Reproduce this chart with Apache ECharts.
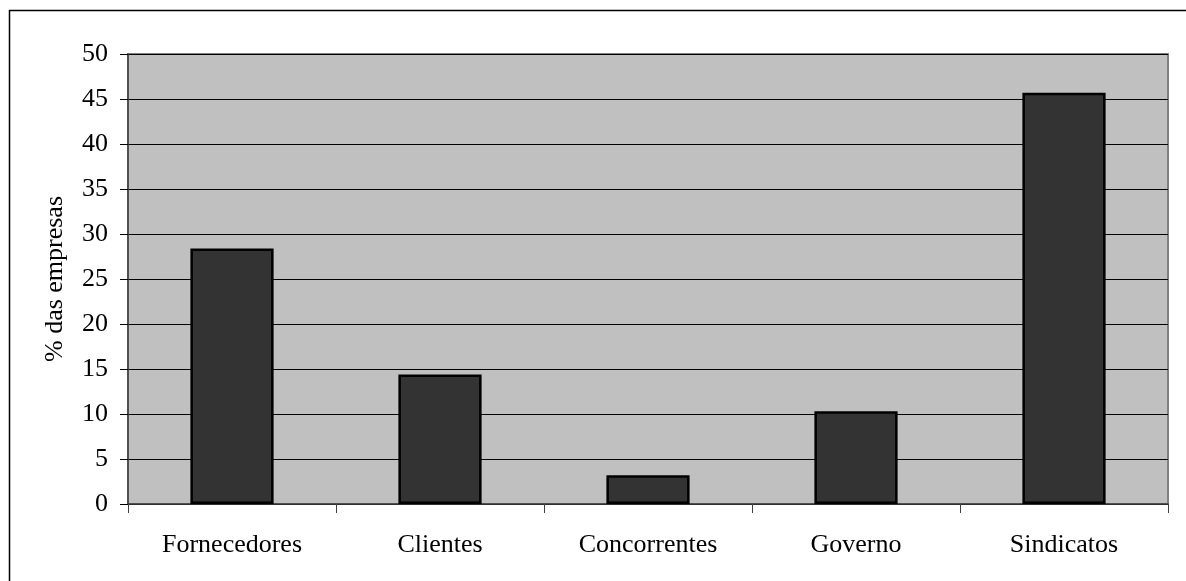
<!DOCTYPE html>
<html>
<head>
<meta charset="utf-8">
<script src="https://cdn.jsdelivr.net/npm/echarts@6/dist/echarts.min.js"></script>
<style>
  html, body { margin: 0; padding: 0; background: #fff; }
  #chart { width: 1186px; height: 581px; }
</style>
</head>
<body>
<div id="chart"></div>
<script>
// Agentes externos citados pelas empresas (% das empresas)
const categories = ['Fornecedores', 'Clientes', 'Concorrentes', 'Governo', 'Sindicatos'];
const percentages = [28.4, 14.4, 3.2, 10.3, 45.7];
const yAxisTitle = '% das empresas';

const FONT = '"Liberation Serif", "Times New Roman", serif';

const chart = echarts.init(document.getElementById('chart'), null, { renderer: 'canvas' });

chart.setOption({
  animation: false,
  backgroundColor: '#ffffff',
  graphic: [
    {
      type: 'rect',
      shape: { x: 9.5, y: 10.5, width: 1200, height: 600 },
      style: { fill: 'none', stroke: '#000000', lineWidth: 1.5 },
      z: -1
    }
  ],
  grid: {
    left: 128,
    top: 54,
    right: 18,
    bottom: 77,
    show: true,
    backgroundColor: '#c0c0c0',
    borderColor: '#808080',
    borderWidth: 2
  },
  xAxis: {
    type: 'category',
    data: categories,
    axisLine: { show: true, lineStyle: { color: '#404040', width: 1.5 } },
    axisTick: { show: true, length: 9, lineStyle: { color: '#404040', width: 1 } },
    axisLabel: {
      color: '#000000',
      fontFamily: FONT,
      fontSize: 26,
      margin: 28
    },
    splitLine: { show: false }
  },
  yAxis: {
    type: 'value',
    min: 0,
    max: 50,
    interval: 5,
    name: yAxisTitle,
    nameLocation: 'middle',
    nameGap: 60,
    nameTextStyle: { color: '#000000', fontFamily: FONT, fontSize: 26 },
    axisLine: { show: true, lineStyle: { color: '#404040', width: 1.5 } },
    axisTick: { show: true, length: 8, lineStyle: { color: '#000000', width: 1 } },
    axisLabel: {
      color: '#000000',
      fontFamily: FONT,
      fontSize: 26,
      margin: 20
    },
    splitLine: { show: true, lineStyle: { color: '#000000', width: 1 } }
  },
  series: [
    {
      type: 'bar',
      data: percentages,
      barCategoryGap: '60%',
      itemStyle: {
        color: '#333333',
        borderColor: '#000000',
        borderWidth: 2.5
      }
    }
  ]
});
</script>
</body>
</html>
